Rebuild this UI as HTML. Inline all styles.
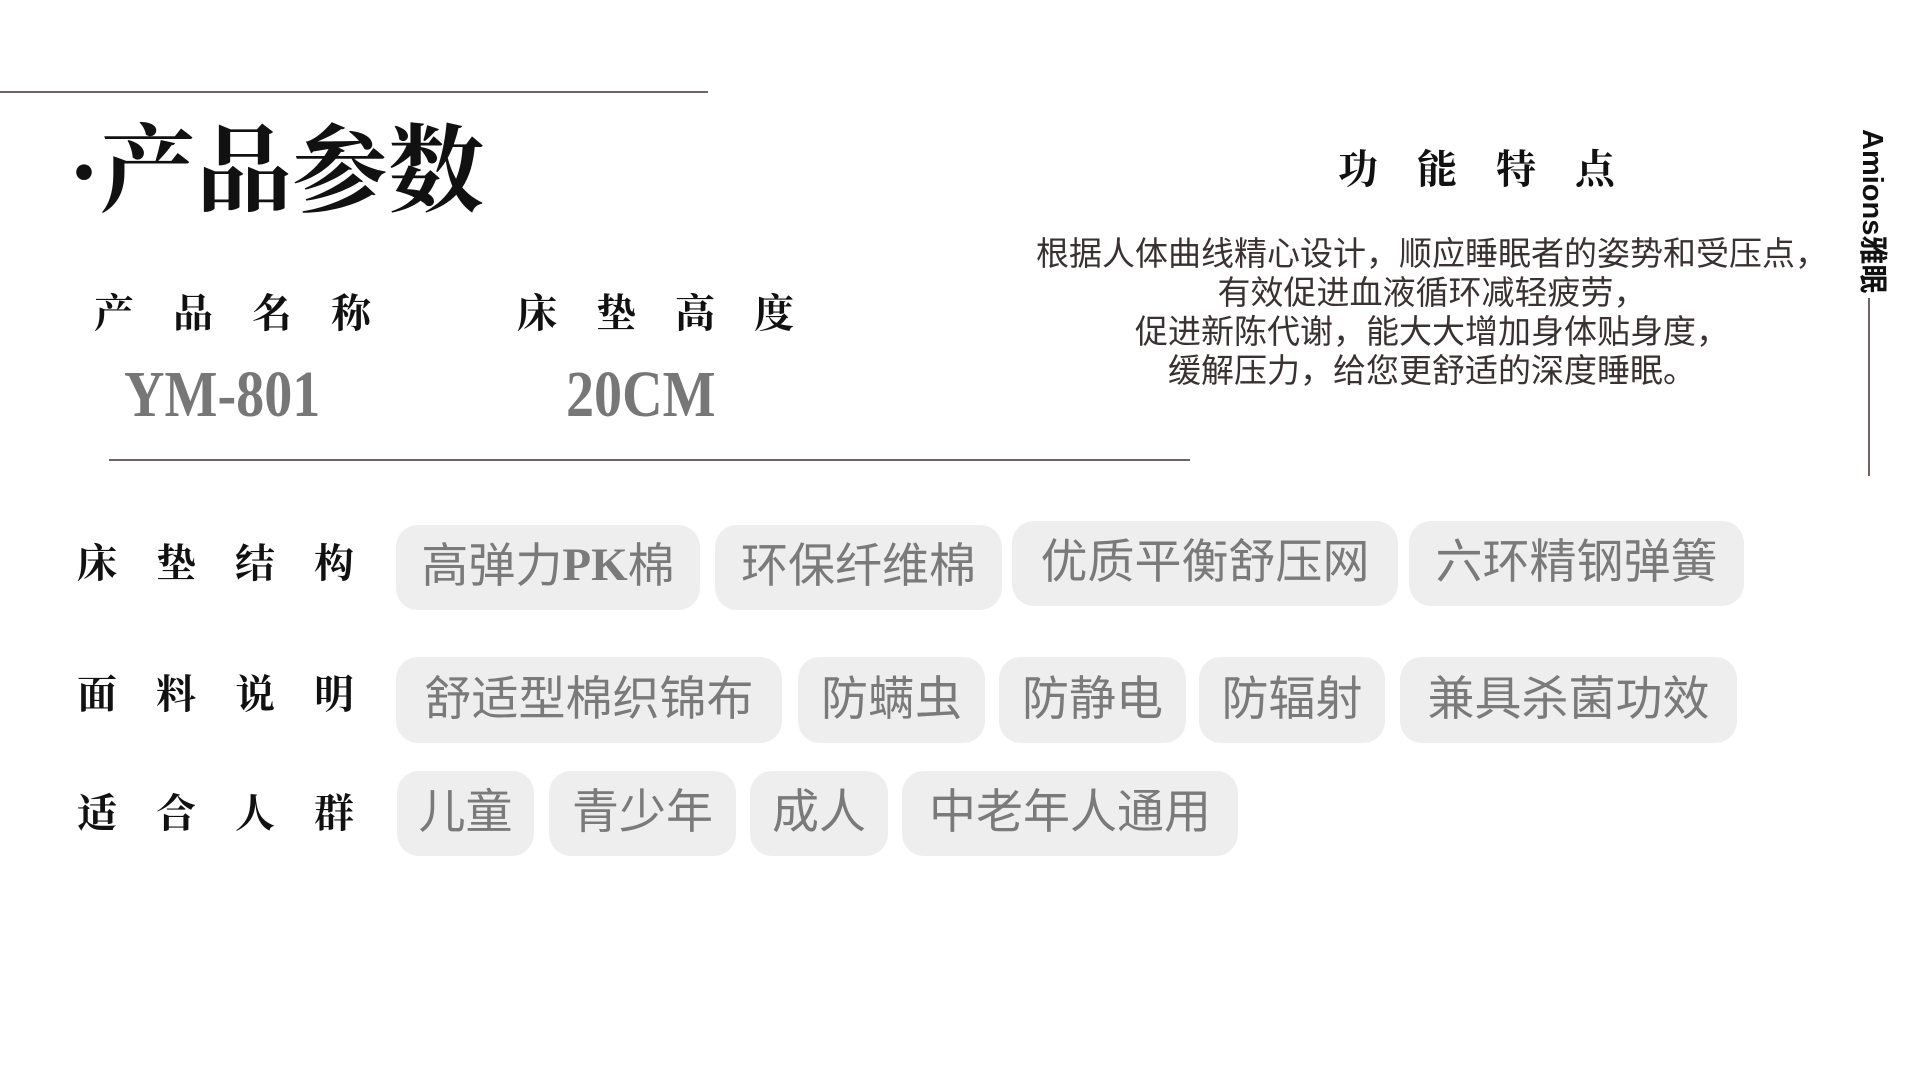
<!DOCTYPE html>
<html><head><meta charset="utf-8"><style>
html,body{margin:0;padding:0;background:#fff;}
body{width:1920px;height:1080px;position:relative;overflow:hidden;font-family:"Liberation Sans","Noto Sans CJK SC",sans-serif;}
.a{position:absolute;white-space:nowrap;}
.serif{font-family:"Liberation Serif","Noto Serif CJK SC",serif;font-weight:bold;}
.line{position:absolute;height:2px;background:#6e6462;}
.lab{font-size:40px;letter-spacing:39px;color:#111;line-height:1;}
.pill{position:absolute;background:#eeeeee;border-radius:22px;color:#7a7a7a;font-size:47px;line-height:1;display:flex;align-items:center;justify-content:center;font-family:"Liberation Sans","Noto Sans CJK SC",sans-serif;padding-bottom:4px;box-sizing:border-box;}
.big{font-family:"Liberation Serif",serif;font-weight:bold;color:#777;font-size:66px;transform:scaleX(0.85);transform-origin:left top;line-height:1;}
</style></head><body>
<div class="line" style="left:0;top:91px;width:708px;"></div>
<div class="a serif" style="left:68px;top:124px;font-size:96px;line-height:1;color:#111;">·产品参数</div>
<div class="a serif lab" style="left:94px;top:294px;">产品名称</div>
<div class="a serif lab" style="left:517px;top:294px;">床垫高度</div>
<div class="a big" style="left:124px;top:362px;">YM-801</div>
<div class="a big" style="left:566px;top:362px;">20CM</div>
<div class="line" style="left:109px;top:459px;width:1081px;"></div>

<div class="a serif lab" style="left:1338px;top:150px;">功能特点</div>
<div class="a" style="left:982px;top:234px;width:900px;text-align:center;font-size:33px;line-height:39px;color:#3a3232;">根据人体曲线精心设计，顺应睡眠者的姿势和受压点，<br>有效促进血液循环减轻疲劳，<br>促进新陈代谢，能大大增加身体贴身度，<br>缓解压力，给您更舒适的深度睡眠。</div>
<div class="a" style="left:1856px;top:129px;width:32px;writing-mode:vertical-rl;text-orientation:sideways;font-size:29px;font-weight:bold;color:#111;line-height:32px;">Amions雅眠</div>
<div style="position:absolute;left:1868px;top:298px;width:2px;height:178px;background:#6e6462;"></div>

<div class="a serif lab" style="left:77px;top:544px;">床垫结构</div>
<div class="a serif lab" style="left:77px;top:675px;">面料说明</div>
<div class="a serif lab" style="left:77px;top:794px;">适合人群</div>

<div class="pill" style="left:396px;top:525px;width:304px;height:85px;">高弹力<span style="font-family:'Liberation Serif',serif;font-weight:bold;">PK</span>棉</div>
<div class="pill" style="left:715px;top:525px;width:287px;height:85px;">环保纤维棉</div>
<div class="pill" style="left:1012px;top:521px;width:386px;height:85px;">优质平衡舒压网</div>
<div class="pill" style="left:1409px;top:521px;width:335px;height:85px;">六环精钢弹簧</div>

<div class="pill" style="left:396px;top:657px;width:386px;height:86px;">舒适型棉织锦布</div>
<div class="pill" style="left:798px;top:657px;width:187px;height:86px;">防螨虫</div>
<div class="pill" style="left:999px;top:657px;width:187px;height:86px;">防静电</div>
<div class="pill" style="left:1199px;top:657px;width:186px;height:86px;">防辐射</div>
<div class="pill" style="left:1400px;top:657px;width:337px;height:86px;">兼具杀菌功效</div>

<div class="pill" style="left:397px;top:771px;width:137px;height:85px;">儿童</div>
<div class="pill" style="left:549px;top:771px;width:187px;height:85px;">青少年</div>
<div class="pill" style="left:750px;top:771px;width:138px;height:85px;">成人</div>
<div class="pill" style="left:902px;top:771px;width:336px;height:85px;">中老年人通用</div>
</body></html>
